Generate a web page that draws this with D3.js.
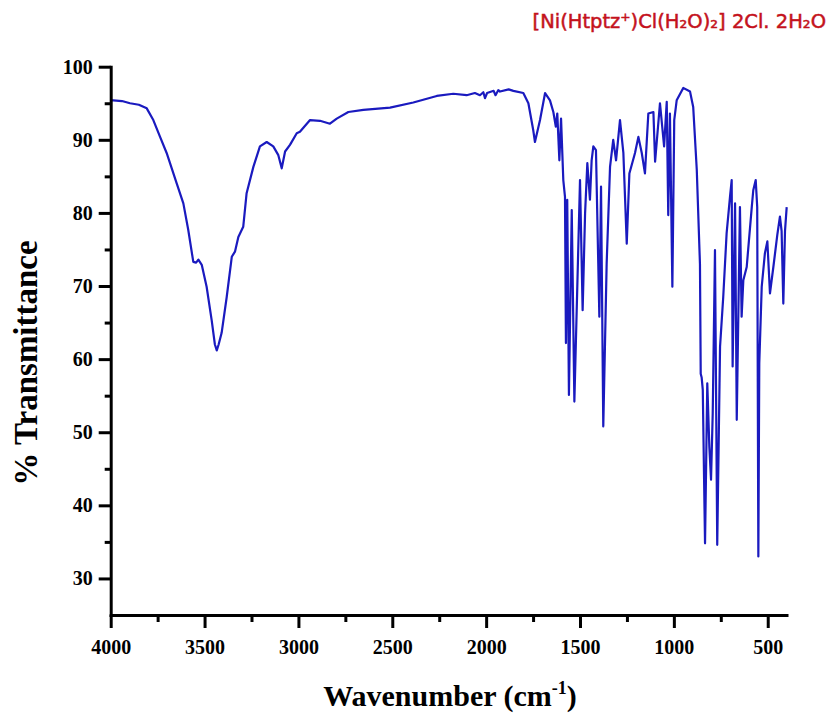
<!DOCTYPE html>
<html>
<head>
<meta charset="utf-8">
<script src="https://cdn.jsdelivr.net/npm/d3@7"></script>
<style>
html,body{margin:0;padding:0;background:#fff;}
svg{display:block;}
</style>
</head>
<body>
<svg id="chart" width="832" height="717"></svg>
<script>
const wavenumber = [3998,3986,3940,3897,3850,3808,3773,3737,3702,3648,3613,3587,3560,3545,3533,3515,3489,3462,3445,3435,3425,3409,3382,3355,3338,3320,3294,3276,3240,3205,3169,3134,3107,3089,3071,3045,3009,2992,2938,2885,2832,2796,2734,2654,2512,2388,2263,2175,2104,2060,2033,2015,2006,1995,1960,1950,1935,1926,1880,1855,1802,1775,1749,1740,1713,1686,1660,1642,1629,1621,1610,1601,1589,1580,1575,1568,1559,1544,1530,1518,1500,1486,1473,1461,1447,1438,1429,1415,1397,1388,1376,1358,1340,1323,1308,1287,1269,1251,1237,1207,1189,1171,1154,1136,1109,1100,1074,1052,1038,1030,1021,1008,998,985,950,914,897,878,861,857,852,846,834,822,811,802,793,781,769,754,737,719,701,692,687,674,665,648,639,630,612,585,577,564,556,550,545,532,515,502,488,470,449,435,426,417,408,399];
const transmittance = [95.4,95.4,95.3,95.0,94.8,94.3,92.7,90.4,88.2,84.0,81.3,77.7,73.3,73.2,73.6,72.9,69.9,65.3,62.0,61.2,62.0,63.6,68.5,74.0,74.7,76.7,78.1,82.7,86.3,89.1,89.7,89.1,87.9,86.1,88.4,89.3,90.9,91.1,92.7,92.6,92.2,92.9,93.8,94.1,94.4,95.1,96.0,96.3,96.1,96.4,96.1,96.5,95.7,96.4,96.7,96.1,96.8,96.6,96.9,96.7,96.4,95.0,91.3,89.7,92.7,96.4,95.4,93.8,91.8,93.6,87.2,92.9,84.5,82.2,62.2,81.8,55.1,80.4,54.2,66.3,84.5,66.7,79.9,86.8,81.8,87.2,89.1,88.6,65.8,83.6,50.8,73.1,86.3,90.0,87.2,92.7,88.2,75.8,85.4,88.2,90.4,88.2,85.4,93.6,93.8,87.0,95.0,89.1,95.2,79.7,93.6,69.9,92.7,95.4,97.1,96.6,94.5,85.9,73.0,58.0,57.5,55.8,34.8,56.7,48.0,43.5,52.6,74.9,34.6,61.7,68.5,77.2,82.2,84.5,59.0,81.3,51.7,80.8,65.8,70.8,72.6,80.8,83.1,84.5,80.8,33.0,59.4,69.9,74.5,76.1,69.0,72.6,77.0,79.5,77.5,67.6,77.5,80.8];

const xMajorTicks = [4000,3500,3000,2500,2000,1500,1000,500];
const xMinorTicks = [3750,3250,2750,2250,1750,1250,750];
const yMajorTicks = [30,40,50,60,70,80,90,100];
const yMinorTicks = [35,45,55,65,75,85,95];

const titleText = "[Ni(Htptz\u207A)Cl(H\u2082O)\u2082] 2Cl. 2H\u2082O";
const xTitle = "Wavenumber (cm";
const xTitleSup = "-1";
const yTitle = "% Transmittance";

const svg = d3.select("#chart");
const pLeft = 110.7, pRight = 786.5, pTop = 66.7, pBottom = 615;

const x = d3.scaleLinear().domain([4000, 400]).range([pLeft, pRight]);
const y = d3.scaleLinear().domain([25, 100]).range([pBottom, pTop]);

const serif = "'Liberation Serif','Times New Roman',serif";

// spectrum
const data = wavenumber.map((w, i) => [w, transmittance[i]]);
svg.append("path")
  .datum(data)
  .attr("fill", "none")
  .attr("stroke", "#1a1abf")
  .attr("stroke-width", 2.2)
  .attr("stroke-linejoin", "round")
  .attr("d", d3.line().x(d => x(d[0])).y(d => y(d[1])));

// x axis
svg.append("g").attr("transform", `translate(0,${pBottom})`)
  .call(d3.axisBottom(x).tickValues(xMajorTicks).tickFormat(d3.format("d")).tickSize(13).tickPadding(12).tickSizeOuter(0));
const xMinor = svg.append("g").attr("transform", `translate(0,${pBottom})`)
  .call(d3.axisBottom(x).tickValues(xMinorTicks).tickSize(7).tickFormat("").tickSizeOuter(0));
xMinor.select(".domain").remove();

// y axis
svg.append("g").attr("transform", `translate(${pLeft},0)`)
  .call(d3.axisLeft(y).tickValues(yMajorTicks).tickFormat(d3.format("d")).tickSize(12).tickPadding(6).tickSizeOuter(0));
const yMinor = svg.append("g").attr("transform", `translate(${pLeft},0)`)
  .call(d3.axisLeft(y).tickValues(yMinorTicks).tickSize(6).tickFormat("").tickSizeOuter(0));
yMinor.select(".domain").remove();

svg.selectAll(".domain").attr("stroke", "#000").attr("stroke-width", 3).attr("stroke-linecap", "square");
svg.selectAll(".tick line").attr("stroke", "#000").attr("stroke-width", 3);
svg.selectAll(".tick text")
  .attr("font-family", serif)
  .attr("font-weight", "bold")
  .attr("font-size", 20)
  .attr("fill", "#000");

// axis titles
const xt = svg.append("text")
  .attr("x", 450).attr("y", 706)
  .attr("text-anchor", "middle")
  .attr("font-family", serif).attr("font-weight", "bold").attr("font-size", 30)
  .attr("fill", "#000");
xt.append("tspan").text(xTitle);
xt.append("tspan").attr("font-size", 18).attr("dy", -12).text(xTitleSup);
xt.append("tspan").attr("dy", 12).text(")");

svg.append("text")
  .attr("transform", "translate(37,363) rotate(-90)")
  .attr("text-anchor", "middle")
  .attr("font-family", serif).attr("font-weight", "bold").attr("font-size", 33)
  .attr("fill", "#000")
  .text(yTitle);

// compound title
svg.append("text")
  .attr("x", 826).attr("y", 28)
  .attr("text-anchor", "end")
  .attr("font-family", "'DejaVu Sans','Noto Sans',sans-serif")
  .attr("font-size", 19.5)
  .attr("fill", "#c4121c")
  .attr("stroke", "#c4121c")
  .attr("stroke-width", 0.5)
  .text(titleText);
</script>
</body>
</html>
